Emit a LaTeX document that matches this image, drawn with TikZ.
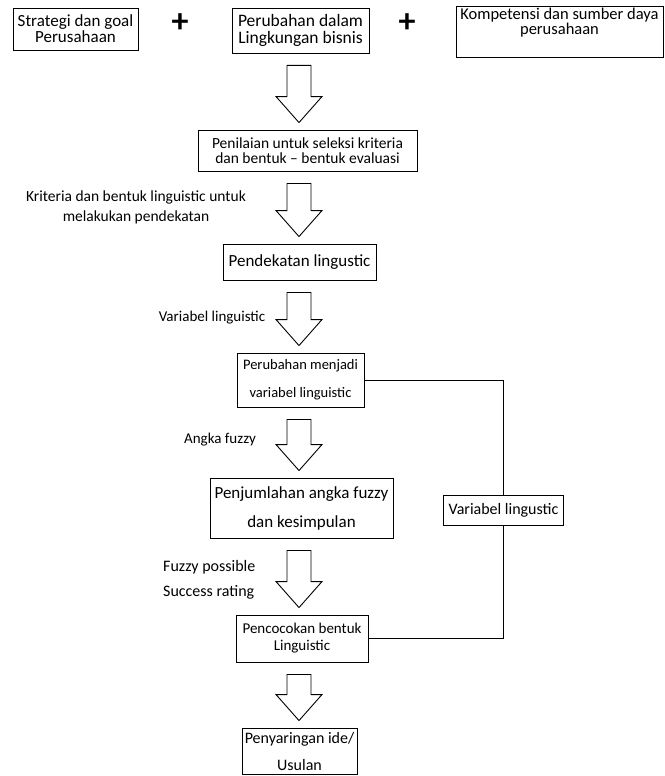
\documentclass[tikz,border=0pt]{standalone}
\usepackage{fontspec}
\setmainfont{Carlito}
\usetikzlibrary{calc}
\newcommand{\fsz}[2]{\fontsize{#1pt}{#2pt}\selectfont}

\begin{document}
\begin{tikzpicture}[
  x=1pt, y=-1pt,
  box/.style={rectangle, draw, line width=0.9pt, fill=white, align=center, inner sep=1pt},
  lbl/.style={align=center, inner sep=0pt},
  bigarr/.style={draw, fill=white, line width=0.9pt, line join=miter, to path={
    let \p1=(\tikztostart), \p2=(\tikztotarget) in
    (287pt,\y1-12pt) -- (311pt,\y1-12pt) -- (311pt,\y2+33pt) -- (322pt,\y2+33pt)
    -- (299pt,\y2+7pt) -- (276pt,\y2+33pt) -- (287pt,\y2+33pt) -- cycle}},
  fb/.style={line width=0.9pt},
]
  \useasboundingbox (0,0) rectangle (664,776);

  \node[box, minimum width=125pt, minimum height=42pt, font=\fsz{17}{16}] (strat) at (75.5,29) {Strategi dan goal\\Perusahaan};
  \node[font=\fsz{34}{34}\bfseries] (plusa) at (180,23) {+};
  \node[box, minimum width=137pt, minimum height=45pt, font=\fsz{17.5}{17}] (ubah) at (300.5,30.5) {Perubahan dalam\\Lingkungan bisnis};
  \node[font=\fsz{34}{34}\bfseries] (plusb) at (407,23) {+};
  \node[box, minimum width=207pt, minimum height=46pt, font=\fsz{16.5}{11}] (komp) at (559.5,32) {Kompetensi dan sumber daya\\perusahaan\\[-2pt]\rule{0pt}{20pt}};

  \node[box, minimum width=219pt, minimum height=41pt, font=\fsz{15.5}{14.5}] (nilai) at (307.5,150.5) {Penilaian untuk seleksi kriteria\\dan bentuk -- bentuk evaluasi};
  \node[lbl, font=\fsz{15.5}{20}] (lkrit) at (136,207) {Kriteria dan bentuk linguistic untuk\\melakukan pendekatan};
  \node[box, minimum width=153pt, minimum height=36pt, font=\fsz{17}{17}] (dekat) at (299.5,262) {Pendekatan lingustic};
  \node[lbl, font=\fsz{15}{18}] (lvar) at (212,318) {Variabel linguistic};
  \node[box, minimum width=127pt, minimum height=54pt, font=\fsz{14.5}{28}] (jadi) at (300.5,380) {Perubahan menjadi\\variabel linguistic};
  \node[lbl, font=\fsz{15}{18}] (langka) at (220,440) {Angka fuzzy};
  \node[box, minimum width=183pt, minimum height=60pt, font=\fsz{17}{29}] (jumlah) at (301.5,508) {Penjumlahan angka fuzzy\\dan kesimpulan};
  \node[lbl, align=left, anchor=west, font=\fsz{16}{25}] (lfuzzy) at (163,580) {Fuzzy possible\\Success rating};
  \node[box, minimum width=132pt, minimum height=47pt, font=\fsz{15}{17}] (cocok) at (302,638.5) {Pencocokan bentuk\\Linguistic};
  \node[box, minimum width=115pt, minimum height=46pt, font=\fsz{16}{27}] (saring) at (299.5,751) {Penyaringan ide/\\Usulan};
  \node[box, minimum width=120pt, minimum height=30pt, font=\fsz{16}{16}] (vside) at (503.5,510) {Variabel lingustic};

  \draw[bigarr] (ubah.south) to (nilai.north);
  \draw[bigarr] (nilai.south) to (dekat.north);
  \draw[bigarr] (dekat.south) to (jadi.north);
  \draw[bigarr] (jadi.south) to (jumlah.north);
  \draw[bigarr] (jumlah.south) to (cocok.north);
  \draw[bigarr] (cocok.south) to (saring.north);

  \draw[fb] (jadi.east) -| (vside.north);
  \draw[fb] (vside.south) |- (cocok.east);
\end{tikzpicture}
\end{document}
